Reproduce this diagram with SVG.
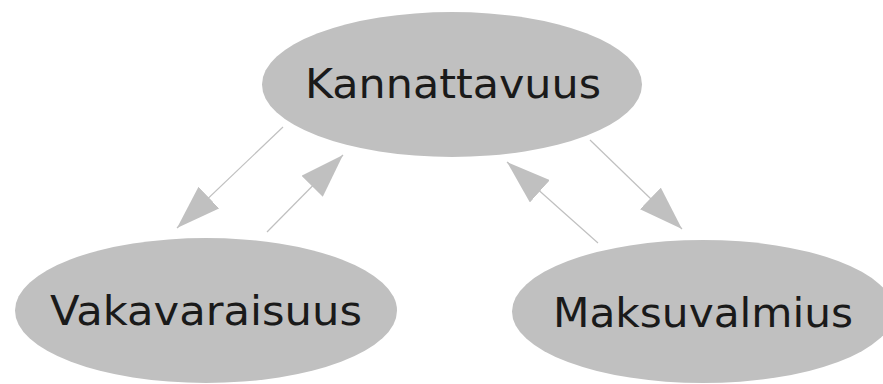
<svg xmlns="http://www.w3.org/2000/svg" width="883" height="384" viewBox="0 0 883 384">
<style>
.node{fill:#c0c0c0;}
.lbl{font-family:"DejaVu Sans",sans-serif;font-size:41px;fill:#1a1a1a;text-anchor:middle;}
.edge{stroke:#c0c0c0;stroke-width:1.2;fill:none;marker-end:url(#ah);}
</style>
<defs>
<marker id="ah" markerUnits="userSpaceOnUse" viewBox="0 0 44 30" refX="44" refY="15" markerWidth="44" markerHeight="30" orient="auto">
<path d="M0,0 L44,15 L0,30 Z" fill="#c0c0c0"/>
</marker>
</defs>
<rect width="883" height="384" fill="#ffffff"/>
<g id="connectors">
<line class="edge" x1="283" y1="127" x2="177" y2="228"/>
<line class="edge" x1="267" y1="232" x2="343" y2="155"/>
<line class="edge" x1="598" y1="243" x2="507" y2="162"/>
<line class="edge" x1="590" y1="140" x2="682" y2="229"/>
</g>
<g id="kannattavuus">
<ellipse class="node" cx="452" cy="84.5" rx="190" ry="72.5"/>
<text class="lbl" x="453" y="98" textLength="296" lengthAdjust="spacingAndGlyphs">Kannattavuus</text>
</g>
<g id="vakavaraisuus">
<ellipse class="node" cx="206" cy="310.5" rx="191" ry="72.5"/>
<text class="lbl" x="206" y="325" textLength="312" lengthAdjust="spacingAndGlyphs">Vakavaraisuus</text>
</g>
<g id="maksuvalmius">
<ellipse class="node" cx="703" cy="311.5" rx="191" ry="71.5"/>
<text class="lbl" x="703" y="327" textLength="300" lengthAdjust="spacingAndGlyphs">Maksuvalmius</text>
</g>
</svg>
